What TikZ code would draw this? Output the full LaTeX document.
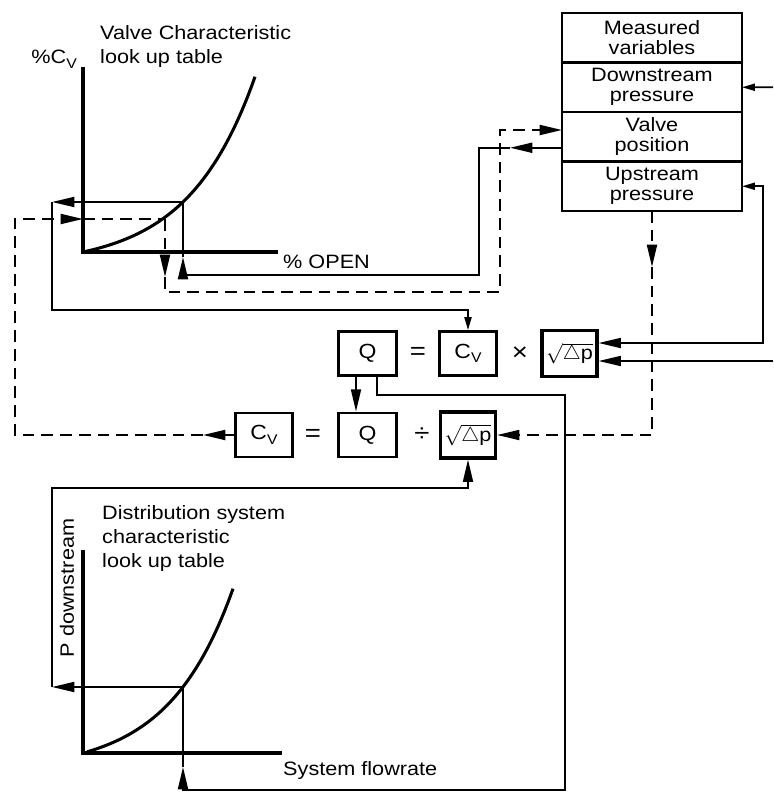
\documentclass[tikz,border=0pt]{standalone}
\usepackage{amsmath}
\usepackage{fontspec}
\setmainfont[FakeStretch=1.12]{Liberation Sans}
\usetikzlibrary{arrows.meta,positioning,calc}

\newcommand{\cvsym}{C\raisebox{-0.4ex}{\fontsize{12}{12}\selectfont V}}
\newcommand{\rootdp}{$\sqrt{\vphantom{X}\triangle\mbox{p}}$}

\tikzset{
  boxtext/.style={font=\fontsize{16.5}{17}\selectfont, align=center},
  mvbox/.style={draw, line width=2.4pt, outer sep=0pt, minimum width=5.4cm,
    minimum height=1.485cm, boxtext},
  calcbox/.style={draw, line width=2.4pt, minimum width=1.72cm, minimum height=1.32cm,
    inner sep=1pt, font=\fontsize{17.5}{17}\selectfont},
  rootbox/.style={calcbox, line width=3pt, minimum width=1.64cm, minimum height=1.37cm,
    inner sep=0pt, font=\fontsize{16.5}{17}\selectfont},
  oplabel/.style={font=\fontsize{21}{21}\selectfont},
  graphlabel/.style={inner sep=0pt, align=left, font=\fontsize{16.5}{20.5}\selectfont},
  axisline/.style={line width=3pt},
  curveline/.style={line width=2.6pt},
  sigline/.style={line width=1.6pt},
  dashline/.style={line width=1.6pt, dash pattern=on 10pt off 6pt},
  bigtip/.style={-{Triangle[length=19pt,width=8.5pt]}},
  smalltip/.style={-{Triangle[length=11pt,width=6pt]}}
}

\begin{document}
\begin{tikzpicture}[x=0.03cm, y=-0.03cm]
  \useasboundingbox (0,0) rectangle (773,792);

  % measured variables
  \node[mvbox] (mv) at (652,37.75) {Measured\\variables};
  \node[mvbox, below=0pt of mv] (dsp) {Downstream\\pressure};
  \node[mvbox, below=0pt of dsp] (vpos) {Valve\\position};
  \node[mvbox, below=0pt of vpos] (usp) {Upstream\\pressure};

  % equations
  \node[calcbox] (q1) at (367.5,353.5) {Q};
  \node[oplabel] (eq1) at (418,353.5) {=};
  \node[calcbox] (cv1) at (468,353.5) {\cvsym};
  \node[oplabel] (mul1) at (520,353.5) {×};
  \node[rootbox] (sq1) at (569.5,353.5) {\rootdp};
  \node[calcbox] (cv2) at (264,435) {\cvsym};
  \node[oplabel] (eq2) at (313,435) {=};
  \node[calcbox] (q2) at (367.5,435) {Q};
  \node[oplabel] (div2) at (422,435) {÷};
  \node[rootbox] (sq2) at (468,435) {\rootdp};

  % valve characteristic
  \draw[axisline] (83,67) -- (83,252) -- (278,252);
  \draw[curveline] plot[domain=3:172, samples=50] ({83+\x},{252-14.37*(exp(0.015*\x)-1)});
  \node[graphlabel, anchor=north west] (vtitle) at (100,25) {Valve Characteristic\\look up table};
  \node[graphlabel, anchor=base east] (cvaxis) at (77,64) {\%\cvsym};
  \node[graphlabel, anchor=base west] (openaxis) at (283,268) {\% OPEN};
  \coordinate (vs) at (183,202);
  \coordinate (vd) at (165,219);

  % distribution system characteristic
  \draw[axisline] (83,550) -- (83,753) -- (282,753);
  \draw[curveline] plot[domain=4:150, samples=50] ({83+\x},{753-17.8*(exp(0.0155*\x)-1)});
  \node[graphlabel, anchor=north west] (dtitle) at (102,505) {Distribution system\\characteristic\\look up table};
  \node[graphlabel, rotate=90] (paxis) at (67,588) {P downstream};
  \node[graphlabel, anchor=base west] (flowaxis) at (283,775) {System flowrate};
  \coordinate (ds) at (183,687);

  % valve position -> % open -> Cv
  \draw[sigline, bigtip] ($(vpos.west)+(0,11)$) -- ($(vpos.west)+(-52,11)$);
  \draw[sigline, bigtip] ($(vpos.west)+(-52,11)$) -| (479,275) -- (183,275) -- (183,257);
  \draw[sigline] (183,257) -- (vs);
  \draw[sigline, bigtip] (vs) -- (52,202);
  \draw[sigline, smalltip] (52,202) |- (468,310) -- (cv1.north);

  % Q -> Q, Q -> system flowrate -> root dp
  \draw[sigline, bigtip] ($(q1.south)+(-11.5,0)$) -- ($(q2.north)+(-11.5,0)$);
  \draw[sigline, bigtip] ($(q1.south)+(9.5,0)$) |- (565,395) |- (183,790) -- (183,767);
  \draw[sigline] (183,767) -- (ds);
  \draw[sigline, bigtip] (ds) -- (52,687);
  \draw[sigline, bigtip] (52,687) |- (468,488) -- (sq2.south);

  % pressures -> root dp
  \draw[sigline, {Triangle[length=11pt,width=6pt]}-{Triangle[length=19pt,width=8.5pt]}]
    (usp.east) -| (763,343) -- ($(sq1.east)+(0,-10.5)$);
  \draw[sigline, smalltip] (773,87.25) -- (dsp.east);
  \draw[sigline, bigtip] (773,361) -- ($(sq1.east)+(0,7.5)$);

  % dashed: upstream -> root dp
  \draw[dashline, bigtip] (usp.south) -- (652,267);
  \draw[dashline, bigtip] (652,267) |- (sq2.east);

  % dashed: Cv -> curve -> valve position
  \draw[dashline, bigtip] (cv2.west) -- (203,435);
  \draw[dashline, bigtip] (203,435) -| (15,219) -- (83,219);
  \draw[dashline] (83,219) -- (vd);
  \draw[dashline, bigtip] (vd) -- (165,277);
  \draw[dashline, bigtip] (165,277) |- (500,292) |- ($(vpos.west)+(0,-6.75)$);
\end{tikzpicture}
\end{document}
